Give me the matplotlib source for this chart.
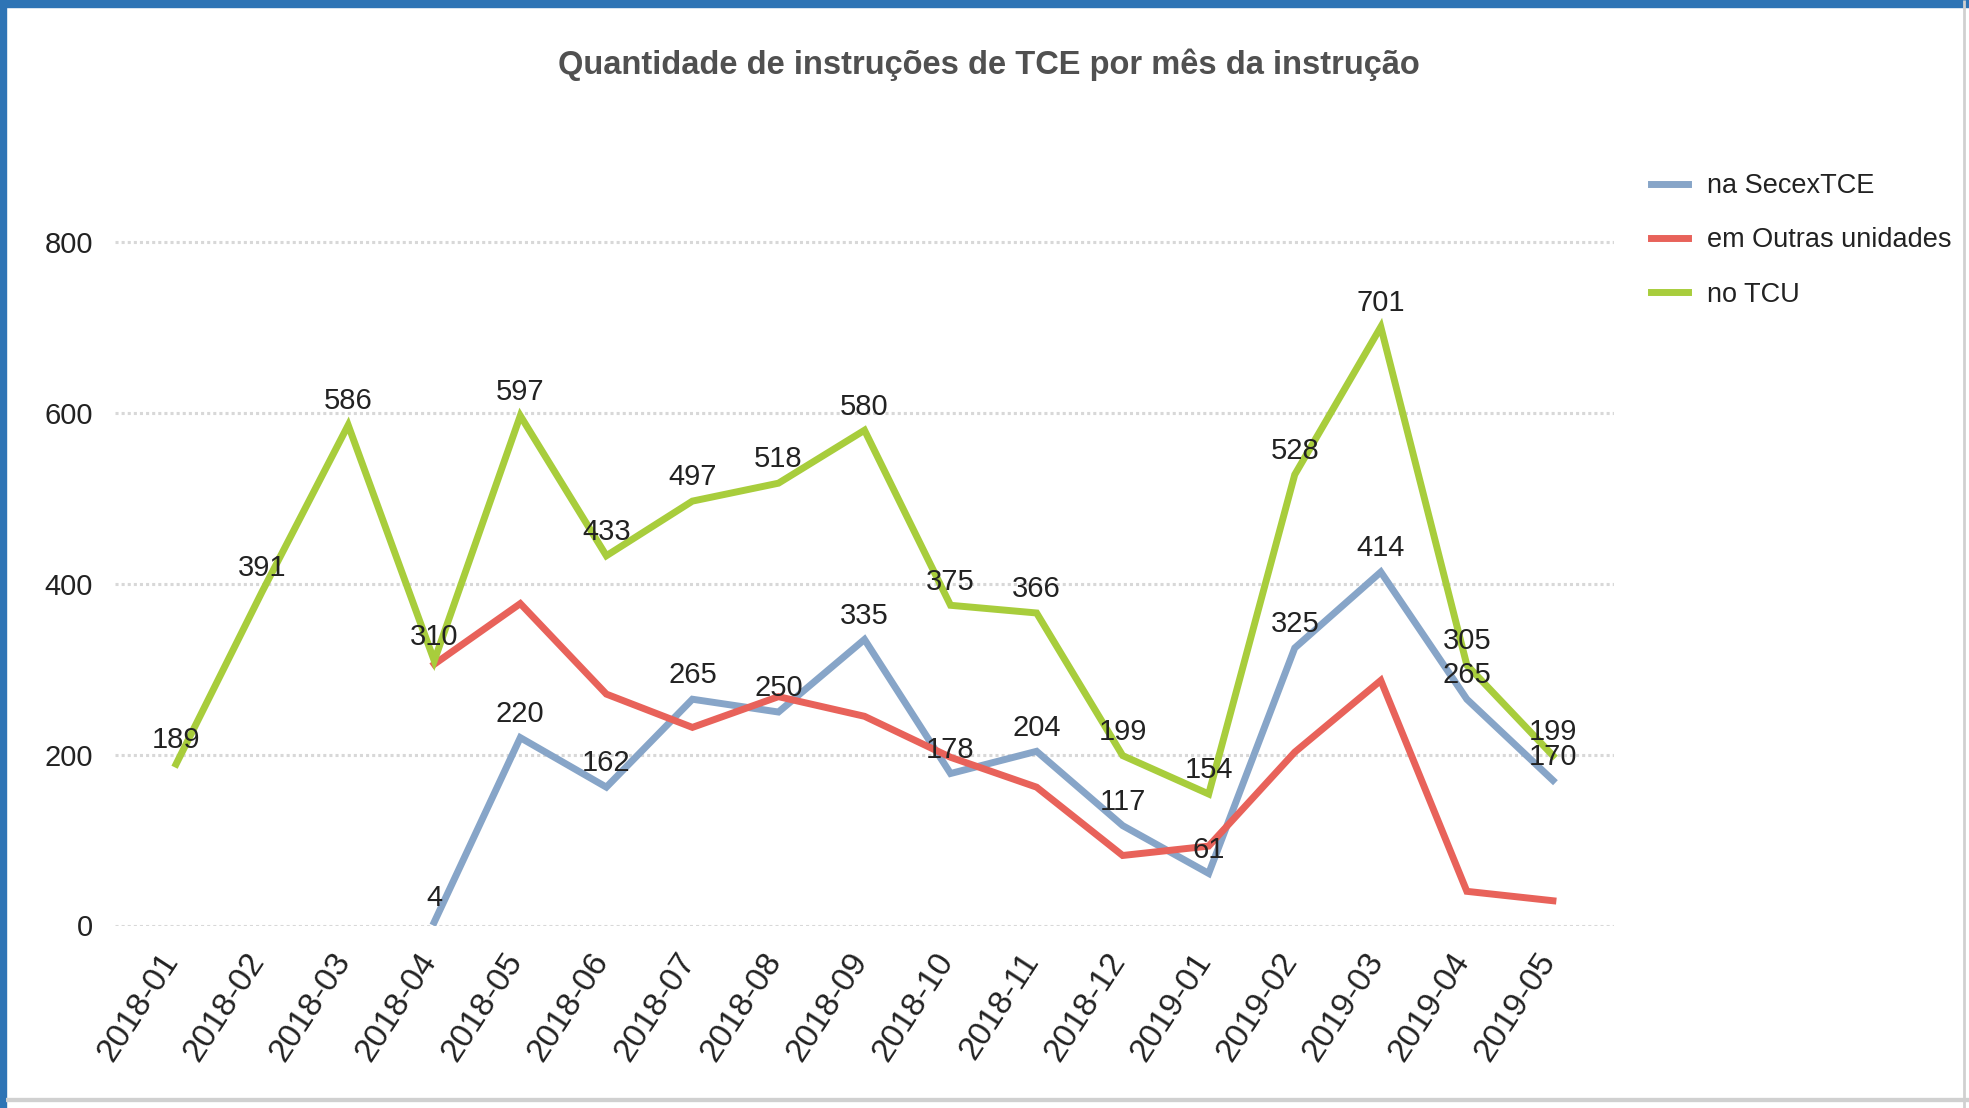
import matplotlib
matplotlib.use("Agg")
import matplotlib.pyplot as plt
import matplotlib.transforms as mtransforms
from matplotlib.patches import Rectangle
from matplotlib import font_manager

months = ["2018-01", "2018-02", "2018-03", "2018-04", "2018-05", "2018-06", "2018-07",
          "2018-08", "2018-09", "2018-10", "2018-11", "2018-12", "2019-01", "2019-02",
          "2019-03", "2019-04", "2019-05"]
secex = [None, None, None, 4, 220, 162, 265, 250, 335, 178, 204, 117, 61, 325, 414, 265, 170]
outras = [None, None, None, 306, 377, 271, 232, 268, 245, 197, 162, 82, 93, 203, 287, 40, 29]
tcu = [189, 391, 586, 310, 597, 433, 497, 518, 580, 375, 366, 199, 154, 528, 701, 305, 199]
yticks = [0, 200, 400, 600, 800]

names = {f.name for f in font_manager.fontManager.ttflist}
fam = ["Liberation Sans Narrow", "Liberation Sans", "DejaVu Sans"]
fam = [f for f in fam if f in names] or ["DejaVu Sans"]
plt.rcParams["font.family"] = fam

C_BLUE = "#87a5c8"
C_RED = "#e8625a"
C_GREEN = "#a8cd3c"
TXT = "#222222"

fig = plt.figure(figsize=(19.69, 11.08), dpi=100)
ax = fig.add_axes([115 / 1969, 182.5 / 1108, (1614 - 115) / 1969, (925.5 - 157) / 1108])

x = list(range(len(months)))

def seg(vals):
    xs = [i for i, v in zip(x, vals) if v is not None]
    ys = [v for v in vals if v is not None]
    return xs, ys

for vals, col, lab in [(secex, C_BLUE, "na SecexTCE"), (outras, C_RED, "em Outras unidades"),
                       (tcu, C_GREEN, "no TCU")]:
    xs, ys = seg(vals)
    ax.plot(xs, ys, color=col, lw=5, label=lab, solid_joinstyle="miter", zorder=3)

for vals in (secex, tcu):
    xs, ys = seg(vals)
    for xi, yi in zip(xs, ys):
        ax.annotate(str(yi), (xi, yi), xytext=(0, 7), textcoords="offset points",
                    ha="center", va="bottom", fontsize=21, color=TXT, zorder=4)

ax.set_xlim(-0.71, 16.71)
ax.set_ylim(0, 900)
ax.set_yticks(yticks)
ax.set_yticklabels([str(v) for v in yticks], fontsize=21, color=TXT)
ax.set_xticks(x)
ax.tick_params(axis="both", length=0)
ax.tick_params(axis="y", pad=16)
ax.tick_params(axis="x", pad=16)
ax.set_xticklabels(months, rotation=57, ha="right", va="top", rotation_mode="anchor",
                   fontsize=24, color=TXT)
offset = mtransforms.ScaledTranslation(-17 / 100, 0, fig.dpi_scale_trans)
for lbl in ax.get_xticklabels():
    lbl.set_transform(lbl.get_transform() + offset)
for s in ax.spines.values():
    s.set_visible(False)
ax.grid(axis="y", color="#d8d8d8", lw=2.2, ls=(0, (1, 1)))
ax.grid(axis="x", visible=False)
ax.set_axisbelow(True)

leg = fig.legend(loc="upper left", bbox_to_anchor=(1651 / 1969, 1 - 173 / 1108),
                 frameon=False, fontsize=19.5, handlelength=1.35, handletextpad=0.7,
                 labelspacing=1.05, labelcolor=TXT, borderpad=0, borderaxespad=0)
for h in leg.legend_handles:
    h.set_linewidth(5)

fig.text(989 / 1969, 1 - 65 / 1108, "Quantidade de instruções de TCE por mês da instrução",
         ha="center", va="center", fontsize=23.5, fontweight="bold", color="#505050")

# screenshot frame
fig.patches.append(Rectangle((0, 1 - 7 / 1108), 1, 7 / 1108, transform=fig.transFigure,
                             color="#2e74b5", zorder=10))
fig.patches.append(Rectangle((0, 0), 6 / 1969, 1, transform=fig.transFigure,
                             color="#2e74b5", zorder=10))
fig.patches.append(Rectangle((6 / 1969, 8 / 1108), 1, 0.0, transform=fig.transFigure,
                             edgecolor="#d0d0d0", lw=3, zorder=10, fill=False))
fig.patches.append(Rectangle((1964 / 1969, 0), 0.0, 1, transform=fig.transFigure,
                             edgecolor="#d0d0d0", lw=2, zorder=10, fill=False))

fig.savefig("out.png", dpi=100)
